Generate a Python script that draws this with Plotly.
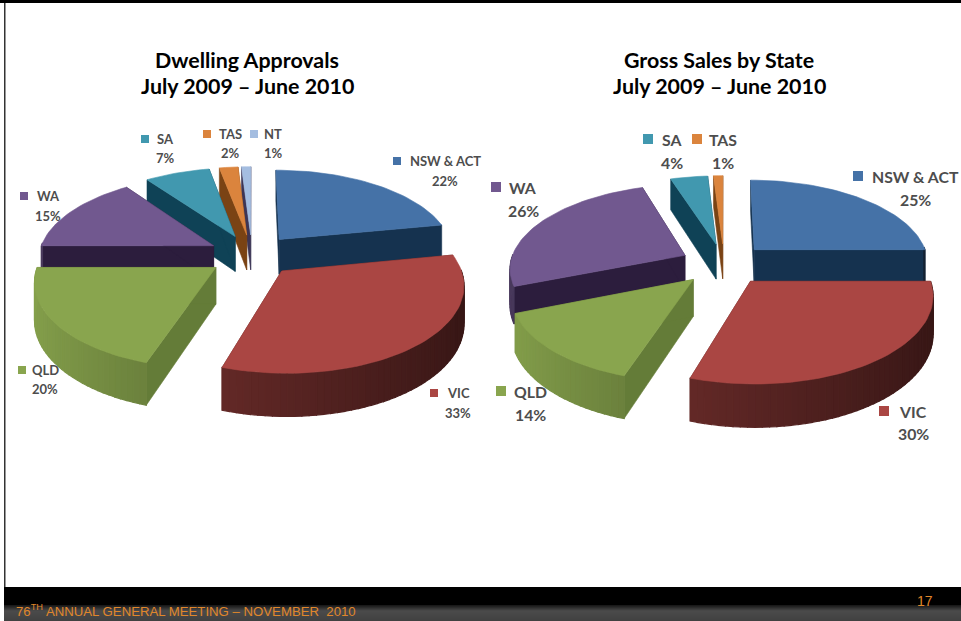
import math
import plotly.graph_objects as go

# Slide text
titles_left = ["Dwelling Approvals", "July 2009 – June 2010"]
titles_right = ["Gross Sales by State", "July 2009 – June 2010"]
footer_text = "76<sup>TH</sup> ANNUAL GENERAL MEETING – NOVEMBER  2010"
page_number = "17"

# Pie data, clockwise from twelve o'clock
left_states = ["NSW & ACT", "VIC", "QLD", "WA", "SA", "TAS", "NT"]
left_values = [22, 33, 20, 15, 7, 2, 1]
right_states = ["NSW & ACT", "VIC", "QLD", "WA", "SA", "TAS"]
right_values = [25, 30, 14, 26, 4, 1]

# Colours per state: top face, radial wall, gain for the curved wall
TOP = {"NSW & ACT": "#4572a7", "VIC": "#aa4643", "QLD": "#89a54e", "WA": "#71588f",
       "SA": "#4198af", "TAS": "#db843d", "NT": "#a4bde0"}
WALL = {"NSW & ACT": "#15324f", "VIC": "#5a1e1b", "QLD": "#647c38", "WA": "#2c1d3d",
        "SA": "#0f4256", "TAS": "#7a4314", "NT": "#3d3555"}
GAIN = {"NSW & ACT": 0.9, "VIC": 1.0, "QLD": 1.35, "WA": 0.9, "SA": 0.9, "TAS": 1.0, "NT": 0.8}

# Label placement: (key x, text x, name y, percent y)
left_label_pos = {"NSW & ACT": (397, 445, 161, 181), "VIC": (434, 458, 393, 413),
                  "QLD": (22, 45, 370, 389), "WA": (24, 48, 196, 216),
                  "SA": (145, 165, 139, 158), "TAS": (207, 230, 134, 153),
                  "NT": (254, 273, 134, 153)}
right_label_pos = {"NSW & ACT": (858, 915, 176, 199), "VIC": (884, 913, 411, 433),
                   "QLD": (501, 530, 391, 414), "WA": (496, 523, 187, 210),
                   "SA": (648, 672, 139, 162), "TAS": (697, 723, 139, 162)}

# Oblique view of the exploded pie
RADIUS_X = 175
RADIUS_Y = 83
PERSPECTIVE = 0.14
THICKNESS = 36
EXPLODE = 0.25
SHEET_W, SHEET_H = 961, 621


def shade(hex_colour, factor):
    r, g, b = (int(hex_colour[i:i + 2], 16) for i in (1, 3, 5))
    return "#%02x%02x%02x" % tuple(min(255, int(c * factor)) for c in (r, g, b))


def project(cx, cy, px, py, z=0.0):
    k = 1 / (1 + PERSPECTIVE * py)
    return cx + RADIUS_X * px * k, cy - RADIUS_Y * py * k + THICKNESS * z * k


def face(fig, pts, colour, edge=0.6):
    xs = [p[0] for p in pts] + [pts[0][0]]
    ys = [p[1] for p in pts] + [pts[0][1]]
    fig.add_trace(go.Scatter(x=xs, y=ys, mode="lines", fill="toself", fillcolor=colour,
                             line=dict(color=colour, width=edge), hoverinfo="skip",
                             showlegend=False))


def draw_pie(fig, states, values, cx, cy):
    total = sum(values)
    slices = []
    acc = 0
    for state, value in zip(states, values):
        a0 = 2 * math.pi * acc / total
        acc += value
        a1 = 2 * math.pi * acc / total
        slices.append((state, a0, a1))
    # Paint far slices first so nearer ones cover them
    slices.sort(key=lambda s: -math.cos((s[1] + s[2]) / 2))
    for state, a0, a1 in slices:
        mid = (a0 + a1) / 2
        ox, oy = EXPLODE * math.sin(mid), EXPLODE * math.cos(mid)
        n = max(2, int((a1 - a0) / math.radians(2)))
        angles = [a0 + (a1 - a0) * i / n for i in range(n + 1)]
        rim = [(ox + math.sin(a), oy + math.cos(a)) for a in angles]

        # Radial walls
        for end in (rim[0], rim[-1]):
            face(fig, [project(cx, cy, ox, oy), project(cx, cy, *end),
                       project(cx, cy, *end, 1), project(cx, cy, ox, oy, 1)], WALL[state])

        # Curved outer wall: only the near half faces the viewer
        for i in range(n):
            a = (angles[i] + angles[i + 1]) / 2
            if math.cos(a) > 0.02:
                continue
            colour = shade(TOP[state], GAIN[state] * (0.52 - 0.2 * math.sin(a)))
            p, q = rim[i], rim[i + 1]
            face(fig, [project(cx, cy, *p), project(cx, cy, *q),
                       project(cx, cy, *q, 1), project(cx, cy, *p, 1)], colour, edge=1.2)

        # Top face
        face(fig, [project(cx, cy, ox, oy)] + [project(cx, cy, *p) for p in rim], TOP[state])


def draw_labels(fig, states, values, positions, size, key_size):
    total = sum(values)
    for state, value in zip(states, values):
        kx, tx, y1, y2 = positions[state]
        fig.add_trace(go.Scatter(x=[kx], y=[y1], mode="markers", hoverinfo="skip", showlegend=False,
                                 marker=dict(symbol="square", size=key_size, color=TOP[state],
                                             line=dict(width=0))))
        for text, y in ((state, y1), (f"{round(100 * value / total)}%", y2)):
            fig.add_annotation(x=tx, y=y, text=f"<b>{text}</b>", showarrow=False,
                               xanchor="center", yanchor="middle",
                               font=dict(family="Lato", size=size, color="#4d4d4d"))


fig = go.Figure()
draw_pie(fig, left_states, left_values, 252, 255)
draw_pie(fig, right_states, right_values, 724, 264)
draw_labels(fig, left_states, left_values, left_label_pos, 13, 8)
draw_labels(fig, right_states, right_values, right_label_pos, 15.8, 10)

for lines, x in ((titles_left, 247), (titles_right, 719)):
    for line, y in zip(lines, (60, 86)):
        fig.add_annotation(x=x, y=y, text=f"<b>{line}</b>", showarrow=False,
                           font=dict(family="Lato", size=21.4, color="#000000"))

# Slide frame and footer band
shapes = [
    dict(type="rect", x0=0, x1=SHEET_W, y0=0, y1=3, fillcolor="#000000", line_width=0),
    dict(type="rect", x0=4, x1=5.5, y0=3, y1=587, fillcolor="#333333", line_width=0),
    dict(type="rect", x0=4, x1=SHEET_W, y0=587, y1=605, fillcolor="#000000", line_width=0),
]
for y in range(605, SHEET_H):
    t = (y - 605) / 16
    level = int(25 + 55 * min(1, t * 3) - 15 * t)
    shapes.append(dict(type="rect", x0=4, x1=SHEET_W, y0=y, y1=y + 1,
                       fillcolor=f"rgb({level},{level},{level})", line_width=0))

fig.add_annotation(x=14, y=610, text=footer_text, showarrow=False, xanchor="left",
                   font=dict(family="Liberation Sans", size=13.2, color="#e0872b"))
fig.add_annotation(x=925, y=601, text=page_number, showarrow=False,
                   font=dict(family="Liberation Sans", size=14, color="#e0872b"))

fig.update_layout(
    width=SHEET_W, height=SHEET_H, margin=dict(l=0, r=0, t=0, b=0),
    paper_bgcolor="#ffffff", plot_bgcolor="#ffffff", showlegend=False, shapes=shapes,
    xaxis=dict(range=[0, SHEET_W], visible=False, fixedrange=True),
    yaxis=dict(range=[SHEET_H, 0], visible=False, fixedrange=True),
)
fig.write_html("out.html", config={"displayModeBar": False})
